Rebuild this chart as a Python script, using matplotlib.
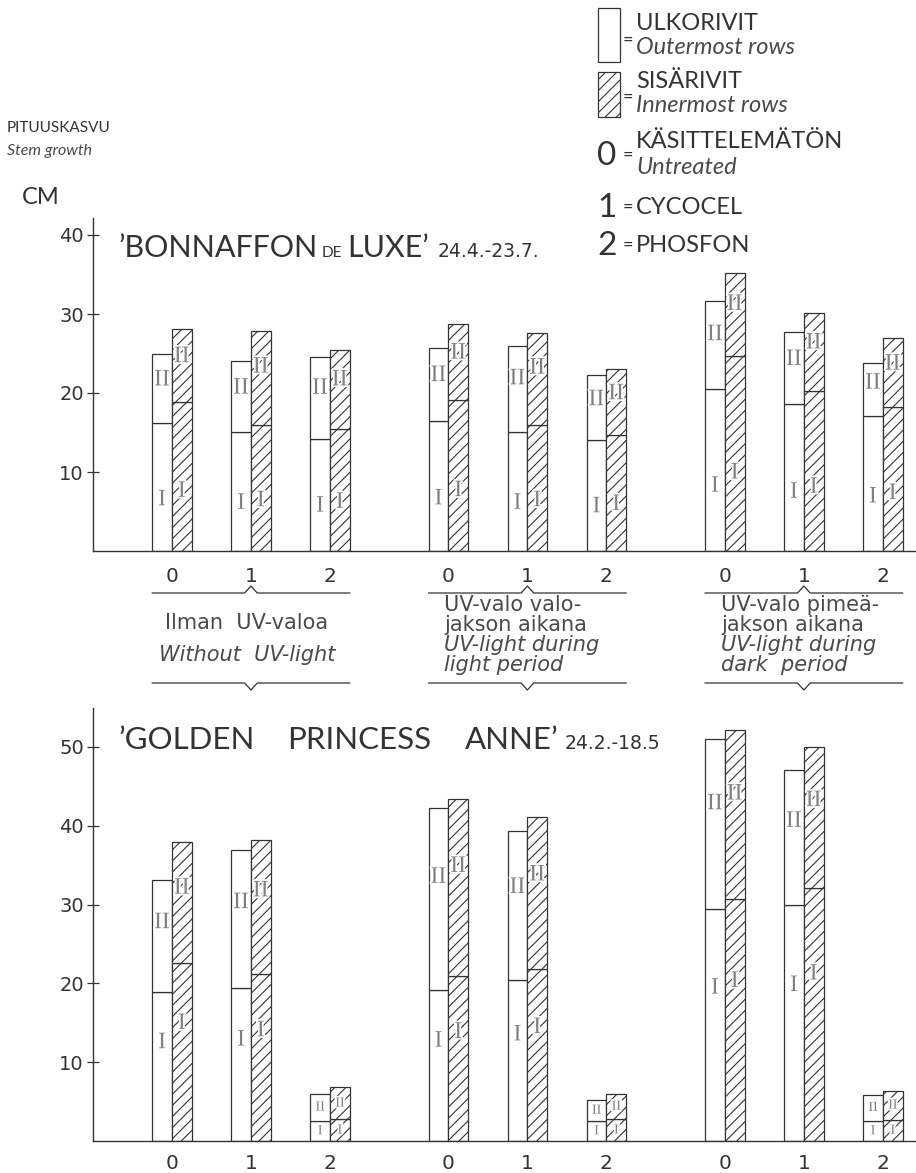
# stem growth chart: two cultivars, outer / inner rows, periods I and II

import matplotlib
matplotlib.use('Agg')
import matplotlib.pyplot as plt
from matplotlib.patches import Rectangle
import matplotlib.patheffects as pe

treatments = ['0', '1', '2']
group_fi = [['Ilman  UV-valoa'],
            ['UV-valo valo-', 'jakson aikana'],
            ['UV-valo pimeä-', 'jakson aikana']]
group_en = [['Without  UV-light'],
            ['UV-light during', 'light period'],
            ['UV-light during', 'dark  period']]

# 'BONNAFFON de LUXE' (cm), period I = lower part, total = top of bar
top_outer_first = [16.2, 15.1, 14.2, 16.5, 15.1, 14.0, 20.5, 18.6, 17.1]
top_outer_total = [25.0, 24.0, 24.5, 25.7, 25.9, 22.3, 31.6, 27.7, 23.8]
top_inner_first = [18.9, 15.9, 15.4, 19.1, 15.9, 14.7, 24.7, 20.2, 18.2]
top_inner_total = [28.1, 27.8, 25.5, 28.7, 27.6, 23.1, 35.2, 30.1, 27.0]

# 'GOLDEN PRINCESS ANNE' (cm)
bot_outer_first = [18.9, 19.4, 2.6, 19.2, 20.4, 2.6, 29.4, 29.9, 2.6]
bot_outer_total = [33.1, 36.9, 6.0, 42.2, 39.4, 5.2, 51.0, 47.1, 5.9]
bot_inner_first = [22.6, 21.2, 2.8, 20.9, 21.8, 2.8, 30.7, 32.1, 2.7]
bot_inner_total = [37.9, 38.2, 6.8, 43.4, 41.1, 6.0, 52.2, 50.0, 6.4]

W, H = 916, 1173
INK = '#333333'
SOFT = '#4a4a4a'
FONT = 'Lato'
WIDE = 'DejaVu Sans'
SERIF = 'Liberation Serif'

plt.rcParams['hatch.linewidth'] = 0.8
plt.rcParams['font.family'] = [FONT, 'DejaVu Sans']


def fx(x):
    return x / W


def fy(y):
    return 1 - y / H


fig = plt.figure(figsize=(W / 100, H / 100), dpi=100)
renderer = fig.canvas.get_renderer()

positions = [g * 3.5 + t for g in range(3) for t in range(len(treatments))]
bw = 0.25


def draw_panel(ax, outer_first, outer_total, inner_first, inner_total, yticks, i_frac):
    for x, of, ot, inf, it in zip(positions, outer_first, outer_total, inner_first, inner_total):
        xo = x - bw / 2
        xi = x + bw / 2
        ax.bar(xo, of, bw, color='white', edgecolor=INK, linewidth=0.9)
        ax.bar(xo, ot - of, bw, bottom=of, color='white', edgecolor=INK, linewidth=0.9)
        ax.bar(xi, inf, bw, color='white', edgecolor=INK, linewidth=0.9, hatch='///')
        ax.bar(xi, it - inf, bw, bottom=inf, color='white', edgecolor=INK, linewidth=0.9, hatch='///')
        small = ot < 10
        fs = 10 if small else 17
        for xx, lo, hi in [(xo, of, ot), (xi, inf, it)]:
            for s, y in [('I', lo * (0.5 if small else i_frac)),
                         ('II', lo + (hi - lo) * (0.5 if small else 0.62))]:
                ax.text(xx, y, s, ha='center', va='center', fontsize=fs, family=SERIF,
                        color='#808080', zorder=5,
                        path_effects=[pe.withStroke(linewidth=2.5, foreground='white')])
    ax.set_xlim(-1.0, 9.42)
    ax.set_yticks(yticks)
    ax.set_yticklabels([str(v) for v in yticks], family=WIDE)
    ax.tick_params(axis='y', direction='inout', length=9, width=0.9, colors=INK,
                   labelsize=14, pad=2)
    ax.tick_params(axis='x', bottom=False, labelbottom=False)
    for s in ['top', 'right']:
        ax.spines[s].set_visible(False)
    for s in ['left', 'bottom']:
        ax.spines[s].set_color(INK)
        ax.spines[s].set_linewidth(1.0)
    ax.set_facecolor('none')


ax1 = fig.add_axes([fx(93), fy(551), fx(916) - fx(93), (551 - 218) / H])
ax1.set_ylim(0, (551 - 218) / 7.9)
draw_panel(ax1, top_outer_first, top_outer_total, top_inner_first, top_inner_total,
           [10, 20, 30, 40], 0.4)

ax2 = fig.add_axes([fx(93), fy(1141), fx(916) - fx(93), (1141 - 708) / H])
ax2.set_ylim(0, (1141 - 708) / 7.88)
draw_panel(ax2, bot_outer_first, bot_outer_total, bot_inner_first, bot_inner_total,
           [10, 20, 30, 40, 50], 0.66)


def top_y(ypx):
    # pixel row -> data value of the upper panel (for text below its baseline)
    return (551 - ypx) / 7.9


# treatment numbers under both panels
for x, t in zip(positions, treatments * 3):
    ax1.text(x, top_y(577), t, ha='center', va='center', fontsize=14.5, family=WIDE,
             color=INK, clip_on=False)
    ax2.text(x, -2.8, t, ha='center', va='center', fontsize=14.5, family=WIDE,
             color=INK, clip_on=False)

# braces and group descriptions between the panels
for g in range(3):
    left = positions[g * 3] - bw
    right = positions[g * 3 + 2] + bw
    c = positions[g * 3 + 1]
    ax1.plot([left, c - 0.08, c, c + 0.08, right],
             [top_y(593), top_y(593), top_y(586), top_y(593), top_y(593)],
             color=INK, lw=0.9, clip_on=False)
    ax1.plot([left, c - 0.08, c, c + 0.08, right],
             [top_y(683), top_y(683), top_y(690), top_y(683), top_y(683)],
             color=INK, lw=0.9, clip_on=False)
    if g == 0:
        rows = [(group_fi[g][0], 'normal', 623), (group_en[g][0], 'italic', 655)]
        for s, st, ypx in rows:
            ax1.text(c - 0.05, top_y(ypx), s, ha='center', va='center', fontsize=15,
                     family=WIDE, style=st, color=SOFT, clip_on=False)
    else:
        rows = [(group_fi[g][0], 'normal', 605), (group_fi[g][1], 'normal', 625),
                (group_en[g][0], 'italic', 645), (group_en[g][1], 'italic', 665)]
        for s, st, ypx in rows:
            ax1.text(left + 0.2, top_y(ypx), s, ha='left', va='center', fontsize=15,
                     family=WIDE, style=st, color=SOFT, clip_on=False)


def chain(x, y, pieces):
    # write text pieces one after another on one baseline (pixel coordinates)
    for s, size, fam, gap in pieces:
        t = fig.text(fx(x), fy(y), s, fontsize=size, family=fam, color=INK,
                     va='baseline', ha='left')
        bb = t.get_window_extent(renderer)
        x = bb.x1 + gap


chain(118, 257, [('’BONNAFFON', 22, FONT, 4), ('DE', 11, FONT, 6), ('LUXE’', 22, FONT, 8),
                 ('24.4.-23.7.', 13.5, WIDE, 0)])
chain(118, 749, [('’GOLDEN', 22.5, FONT, 33), ('PRINCESS', 22.5, FONT, 33), ('ANNE’', 22.5, FONT, 6),
                 ('24.2.-18.5', 13.5, WIDE, 0)])

# left texts
fig.text(fx(7), fy(128), 'PITUUSKASVU', fontsize=11, color=INK, va='center')
fig.text(fx(7), fy(151), 'Stem growth', fontsize=11.5, color=SOFT, style='italic', va='center')
fig.text(fx(22), fy(197), 'CM', fontsize=17, color=INK, va='center')

# key in upper right
KX = 598
fig.add_artist(Rectangle((fx(KX), fy(62)), 22 / W, 54 / H, transform=fig.transFigure,
                         facecolor='white', edgecolor=INK, linewidth=0.9))
fig.add_artist(Rectangle((fx(KX), fy(117)), 22 / W, 45 / H, transform=fig.transFigure,
                         facecolor='white', edgecolor=INK, linewidth=0.9, hatch='///'))
key_rows = [
    (None, 40, 'ULKORIVIT', 'Outermost rows', 23, 47),
    (None, 97, 'SISÄRIVIT', 'Innermost rows', 82, 105),
    ('0', 155, 'KÄSITTELEMÄTÖN', 'Untreated', 142, 167),
    ('1', 207, 'CYCOCEL', None, 207, None),
    ('2', 245, 'PHOSFON', None, 245, None),
]
for sym, ye, fi, en, yf, yen in key_rows:
    if sym is not None:
        fig.text(fx(KX + 9), fy(ye + 1), sym, fontsize=24, color=INK, ha='center', va='center')
    fig.text(fx(KX + 30), fy(ye), '=', fontsize=13, color=INK, ha='center', va='center')
    fig.text(fx(KX + 38), fy(yf), fi, fontsize=17, color=INK, va='center')
    if en is not None:
        fig.text(fx(KX + 38), fy(yen), en, fontsize=17, color=SOFT, style='italic', va='center')

fig.savefig('out.png', dpi=100, facecolor='white')
